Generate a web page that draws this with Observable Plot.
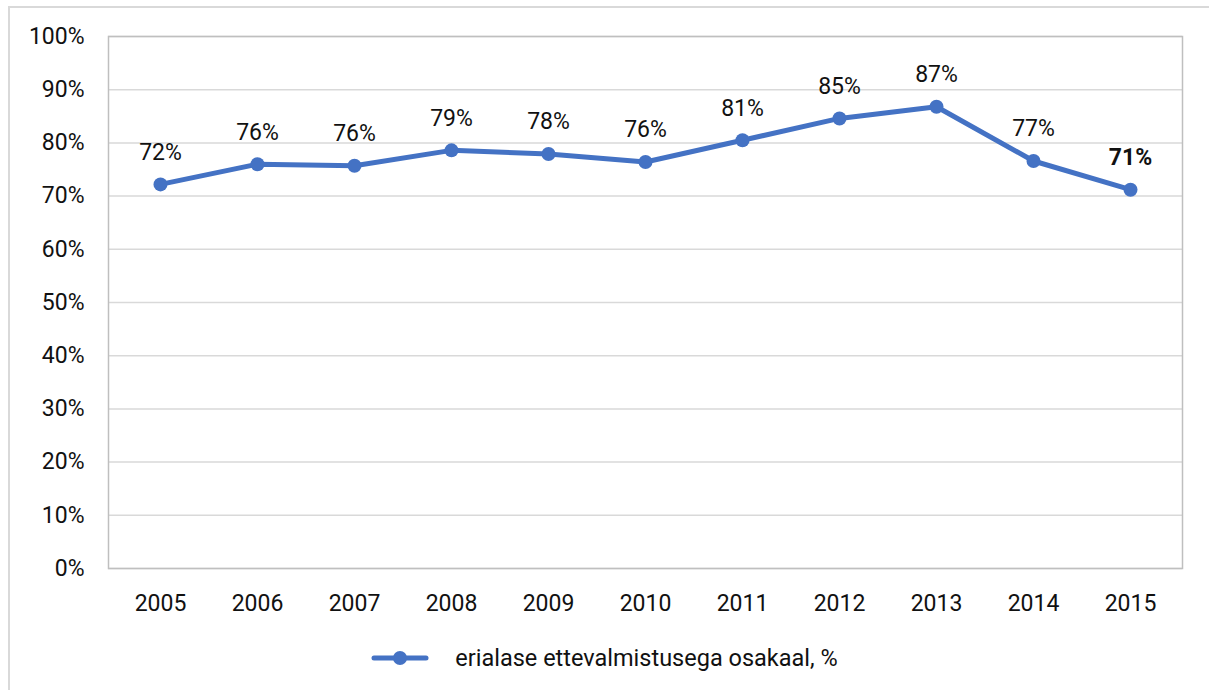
<!DOCTYPE html>
<html><head><meta charset="utf-8">
<script src="https://cdn.jsdelivr.net/npm/d3@7"></script>
<script src="https://cdn.jsdelivr.net/npm/@observablehq/plot@0.6"></script>
<style>
body{margin:0;background:#fff;font-family:Roboto,sans-serif;}
#wrap{position:relative;width:1209px;height:690px;overflow:hidden;}
#frame{position:absolute;left:8px;top:6px;width:1240px;height:720px;border:2px solid #d9d9d9;box-sizing:border-box;pointer-events:none;}
#chart{position:absolute;left:0;top:0;}
#legend{position:absolute;left:0;top:630px;width:1209px;height:56px;display:flex;align-items:center;justify-content:center;font-size:23.5px;color:#111;}
#legend svg{margin-right:26px;}
</style></head>
<body>
<div id="wrap"><div id="frame"></div><div id="chart"></div>
<div id="legend"></div></div>
<script>
const years = ["2005","2006","2007","2008","2009","2010","2011","2012","2013","2014","2015"];
const values = [72.2, 76.0, 75.7, 78.6, 77.9, 76.4, 80.5, 84.6, 86.8, 76.6, 71.2];
const labels = ["72%","76%","76%","79%","78%","76%","81%","85%","87%","77%","71%"];
const yTicks = [0,10,20,30,40,50,60,70,80,90,100];
const seriesName = "erialase ettevalmistusega osakaal, %";
const color = "#4472C4";
const fs = 23;

const data = years.map((y,i)=>({year:y, value:values[i], label:labels[i], bold: i===years.length-1}));

const chart = Plot.plot({
  width: 1209, height: 630,
  marginLeft: 108, marginRight: 27, marginTop: 36, marginBottom: 62,
  style: {fontFamily: "Roboto, sans-serif", fontSize: fs + "px", color: "#111", background: "transparent"},
  x: {type: "point", domain: years, padding: 0.5, label: null},
  y: {domain: [0,100], label: null},
  marks: [
    Plot.ruleY(yTicks, {stroke: "#d9d9d9", strokeWidth: 1.5}),
    Plot.frame({stroke: "#bfbfbf", strokeWidth: 1.5}),
    Plot.axisX({tickSize: 0, tickPadding: 26, fontSize: fs, label: null}),
    Plot.axisY({ticks: yTicks, tickFormat: d => d + "%", tickSize: 0, tickPadding: 24, fontSize: fs, label: null}),
    Plot.line(data, {x: "year", y: "value", stroke: color, strokeWidth: 5, strokeLinejoin: "round", strokeLinecap: "round"}),
    Plot.dot(data, {x: "year", y: "value", fill: color, r: 7}),
    Plot.text(data.filter(d=>!d.bold), {x: "year", y: "value", text: "label", dy: -32, fontSize: fs, fill: "#111"}),
    Plot.text(data.filter(d=>d.bold), {x: "year", y: "value", text: "label", dy: -32, fontSize: fs, fontWeight: "bold", fill: "#111"})
  ]
});
document.getElementById("chart").appendChild(chart);

const lg = document.getElementById("legend");
lg.innerHTML = `<svg width="58" height="16"><line x1="3" y1="8" x2="55" y2="8" stroke="${color}" stroke-width="5" stroke-linecap="round"/><circle cx="29" cy="8" r="7" fill="${color}"/></svg><span>${seriesName}</span>`;
</script>
</body></html>
